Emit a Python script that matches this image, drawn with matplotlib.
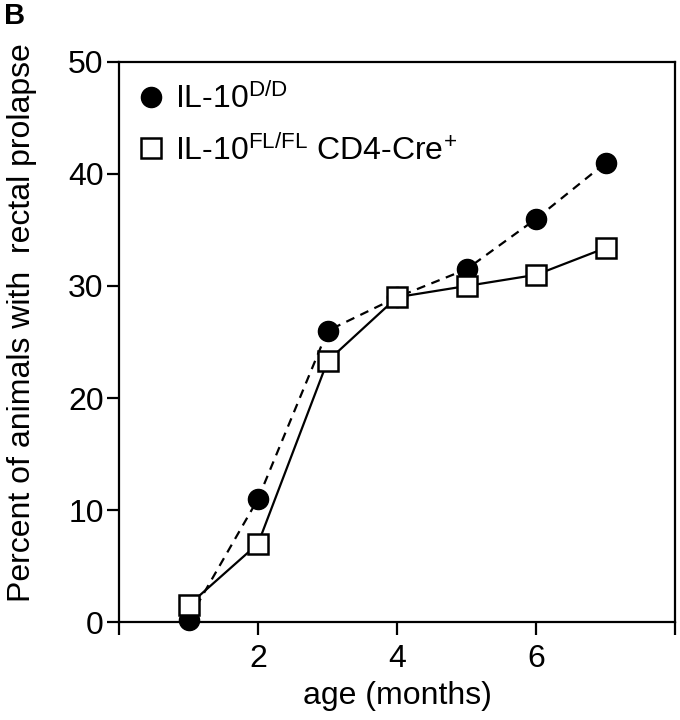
import matplotlib
matplotlib.use("Agg")
import matplotlib.pyplot as plt
from matplotlib.lines import Line2D

plt.rcParams.update({
    "font.family": "Liberation Sans",
    "mathtext.fontset": "custom",
    "mathtext.rm": "Liberation Sans",
    "mathtext.it": "Liberation Sans:italic",
    "mathtext.bf": "Liberation Sans:bold",
})

# ── Data ─────────────────────────────────────────────────────────────────────
age      = [1, 2, 3, 4, 5, 6, 7]
il10_dd  = [0.2, 11, 26, 29, 31.5, 36, 41]
il10_cd4 = [1.5, 7, 23.3, 29, 30, 31, 33.4]

XTICKS  = [0, 2, 4, 6, 8]
XLABELS = ["", "2", "4", "6", ""]
YTICKS  = [0, 10, 20, 30, 40, 50]

# ── Figure ───────────────────────────────────────────────────────────────────
fig = plt.figure(figsize=(6.8, 7.2), dpi=100, facecolor="white")
ax = fig.add_axes([0.175, 0.136, 0.818, 0.778])

ax.plot(age, il10_dd, color="black", linestyle=(0, (4, 3)), linewidth=1.6,
        marker="o", markersize=14.5, markerfacecolor="black",
        markeredgecolor="black", clip_on=False, zorder=3)
ax.plot(age, il10_cd4, color="black", linestyle="-", linewidth=1.6,
        marker="s", markersize=14, markerfacecolor="white",
        markeredgecolor="black", markeredgewidth=1.8, clip_on=False, zorder=4)

ax.set_xlim(0, 8)
ax.set_ylim(0, 50)
ax.set_xticks(XTICKS)
ax.set_xticklabels(XLABELS)
ax.set_yticks(YTICKS)

for s in ax.spines.values():
    s.set_linewidth(1.6)
ax.tick_params(axis="both", direction="out", length=9, width=1.6, labelsize=23)
ax.tick_params(axis="x", pad=7)
ax.tick_params(axis="y", pad=2)

ax.set_xlabel("age (months)", fontsize=23)
ax.xaxis.set_label_coords(0.5, -0.105)
ax.set_ylabel("Percent of animals with  rectal prolapse", fontsize=23)
ax.yaxis.set_label_coords(-0.148, 0.535)

h1 = Line2D([], [], linestyle="none", marker="o", markersize=14.5,
            markerfacecolor="black", markeredgecolor="black")
h2 = Line2D([], [], linestyle="none", marker="s", markersize=14,
            markerfacecolor="white", markeredgecolor="black", markeredgewidth=1.8)
ax.legend([h1, h2], [r"IL-10$^{\mathrm{D/D}}$", r"IL-10$^{\mathrm{FL/FL}}$ CD4-Cre$^{+}$"],
          loc="upper left", bbox_to_anchor=(-0.022, 1.01), frameon=False,
          fontsize=23, handletextpad=0.2, labelspacing=0.6,
          borderaxespad=0.45, handlelength=1.1)

fig.text(0.006, 0.997, "B", fontsize=21, fontweight="bold", va="top", ha="left")

fig.savefig("out.png", dpi=100, facecolor="white")
